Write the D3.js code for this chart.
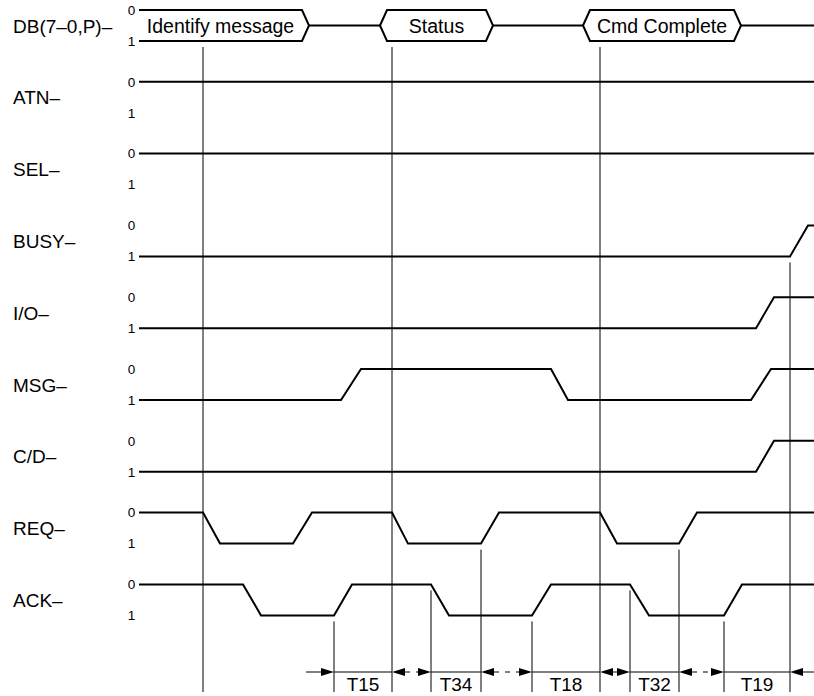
<!DOCTYPE html>
<html>
<head>
<meta charset="utf-8">
<script src="https://cdn.jsdelivr.net/npm/d3@7"></script>
<style>
  html, body { margin: 0; padding: 0; background: #fff; }
  svg { display: block; }
  text { font-family: "Liberation Sans", Arial, Helvetica, sans-serif; fill: #000; }
</style>
</head>
<body>
<svg id="chart" width="814" height="696"></svg>
<script>
// ---- data (time axis in arbitrary units, levels 0/1) ----
const signalNames = ["DB(7–0,P)–", "ATN–", "SEL–", "BUSY–", "I/O–", "MSG–", "C/D–", "REQ–", "ACK–"];
const levelLabels = ["0", "1"];

// bus phases on DB: [leftPoint, rightPoint, label]  (null = starts at chart start)
const busStarts = [null, 241, 444];
const busEnds = [170, 354, 602];
const busLabels = ["Identify message", "Status", "Cmd Complete"];

// waveforms: [time, level]
const waveATN  = [[0, 0], [675, 0]];
const waveSEL  = [[0, 0], [675, 0]];
const waveBUSY = [[0, 1], [651, 1], [669, 0], [675, 0]];
const waveIO   = [[0, 1], [617, 1], [635, 0], [675, 0]];
const waveMSG  = [[0, 1], [202, 1], [222, 0], [412, 0], [429, 1], [612, 1], [632, 0], [675, 0]];
const waveCD   = [[0, 1], [617, 1], [635, 0], [675, 0]];
const waveREQ  = [[0, 0], [64, 0], [81, 1], [154, 1], [173, 0], [253, 0], [269, 1], [342, 1], [360, 0], [461, 0], [478, 1], [540, 1], [558, 0], [675, 0]];
const waveACK  = [[0, 0], [104, 0], [122, 1], [195, 1], [213, 0], [292, 0], [310, 1], [393, 1], [412, 0], [491, 0], [510, 1], [585, 1], [603, 0], [675, 0]];
const waves = [null, waveATN, waveSEL, waveBUSY, waveIO, waveMSG, waveCD, waveREQ, waveACK];

// reference lines: time, and the signal row/level they hang below
const markerTimes  = [64, 253, 461, 651, 195, 292, 342, 393, 491, 540, 585];
const markerRows   = [0, 0, 0, 3, 8, 8, 7, 8, 8, 7, 8];
const markerLevels = [1, 1, 1, 1, 1, 0, 1, 1, 0, 1, 1];

// timing intervals
const timingLabels = ["T15", "T34", "T18", "T32", "T19"];
const timingFrom   = [195, 292, 393, 491, 585];
const timingTo     = [253, 342, 461, 540, 651];

(function () {
// ---- scales ----
const x = d3.scaleLinear().domain([0, 675]).range([139, 814]);
const row = d3.scaleLinear().domain([0, 8]).range([10, 584.4]);
const lvl = d3.scaleLinear().domain([0, 1]).range([0, 31]);
const yOf = (r, l) => row(r) + lvl(l);

const svg = d3.select("#chart");
const SLANT = 7;
const BOTTOM = 692;
const DIM_Y = 672;

// ---- labels ----
svg.append("g").selectAll("text").data(signalNames).join("text")
  .attr("x", 13)
  .attr("y", (d, i) => (yOf(i, 0) + yOf(i, 1)) / 2 + 7)
  .attr("font-size", 19)
  .text(d => d);

const lg = svg.append("g");
signalNames.forEach((n, i) => {
  levelLabels.forEach((t, l) => {
    lg.append("text")
      .attr("x", 131.5).attr("y", yOf(i, l) + 4.8)
      .attr("text-anchor", "middle")
      .attr("font-size", 13.5)
      .text(t);
  });
});

// ---- marker lines ----
svg.append("g").selectAll("line").data(markerTimes).join("line")
  .attr("x1", d => x(d)).attr("x2", d => x(d))
  .attr("y1", (d, i) => yOf(markerRows[i], markerLevels[i]) + 6)
  .attr("y2", BOTTOM)
  .attr("stroke", "#000").attr("stroke-width", 1);

// ---- waveforms ----
waves.forEach((w, i) => {
  if (!w) return;
  svg.append("path")
    .attr("d", d3.line().x(d => x(d[0])).y(d => yOf(i, d[1]))(w))
    .attr("fill", "none").attr("stroke", "#000").attr("stroke-width", 2)
    .attr("stroke-linejoin", "miter");
});

// ---- DB bus ----
const yTop = yOf(0, 0), yBot = yOf(0, 1), yMid = (yTop + yBot) / 2;
const bus = svg.append("g").attr("fill", "none").attr("stroke", "#000").attr("stroke-width", 2);
busEnds.forEach((e, i) => {
  const s = busStarts[i];
  const xe = x(e);
  let d;
  if (s === null) {
    const xs = x(0);
    d = `M${xs},${yTop}L${xe - SLANT},${yTop}L${xe},${yMid}L${xe - SLANT},${yBot}L${xs},${yBot}`;
  } else {
    const xs = x(s);
    d = `M${xs},${yMid}L${xs + SLANT},${yTop}L${xe - SLANT},${yTop}L${xe},${yMid}L${xe - SLANT},${yBot}L${xs + SLANT},${yBot}Z`;
  }
  bus.append("path").attr("d", d).attr("stroke-linejoin", "miter");
  const nextStart = i + 1 < busStarts.length ? busStarts[i + 1] : 675;
  bus.append("line").attr("x1", xe).attr("x2", x(nextStart)).attr("y1", yMid).attr("y2", yMid);
  const leftCorner = s === null ? x(0) : x(s) + SLANT;
  svg.append("text")
    .attr("x", (leftCorner + xe - SLANT) / 2).attr("y", yMid + 7)
    .attr("text-anchor", "middle").attr("font-size", 19.5)
    .text(busLabels[i]);
});

// ---- timing dimensions ----
const dim = svg.append("g");
const AL = 13, AW = 4;
function arrow(tip, dir) { // dir=+1 points right, -1 points left
  dim.append("path")
    .attr("d", `M${tip},${DIM_Y}L${tip - dir * AL},${DIM_Y - AW}L${tip - dir * AL},${DIM_Y + AW}Z`)
    .attr("fill", "#000");
}
timingLabels.forEach((lab, i) => {
  const a = x(timingFrom[i]), b = x(timingTo[i]);
  dim.append("line").attr("x1", a).attr("x2", b).attr("y1", DIM_Y).attr("y2", DIM_Y)
    .attr("stroke", "#000").attr("stroke-width", 1);
  arrow(a, 1);
  arrow(b, -1);
  dim.append("text").attr("x", (a + b) / 2).attr("y", 691)
    .attr("text-anchor", "middle").attr("font-size", 19).text(lab);
  if (i === 0) {
    dim.append("line").attr("x1", a - AL - 15).attr("x2", a - AL).attr("y1", DIM_Y).attr("y2", DIM_Y)
      .attr("stroke", "#000");
  }
  if (i + 1 < timingLabels.length) {
    const n = x(timingFrom[i + 1]);
    dim.append("line").attr("x1", b + AL).attr("x2", n - AL).attr("y1", DIM_Y).attr("y2", DIM_Y)
      .attr("stroke", "#000").attr("stroke-dasharray", "5,6");
  } else {
    dim.append("line").attr("x1", b + AL).attr("x2", x(675)).attr("y1", DIM_Y).attr("y2", DIM_Y)
      .attr("stroke", "#000");
  }
});
})();
</script>
</body>
</html>
